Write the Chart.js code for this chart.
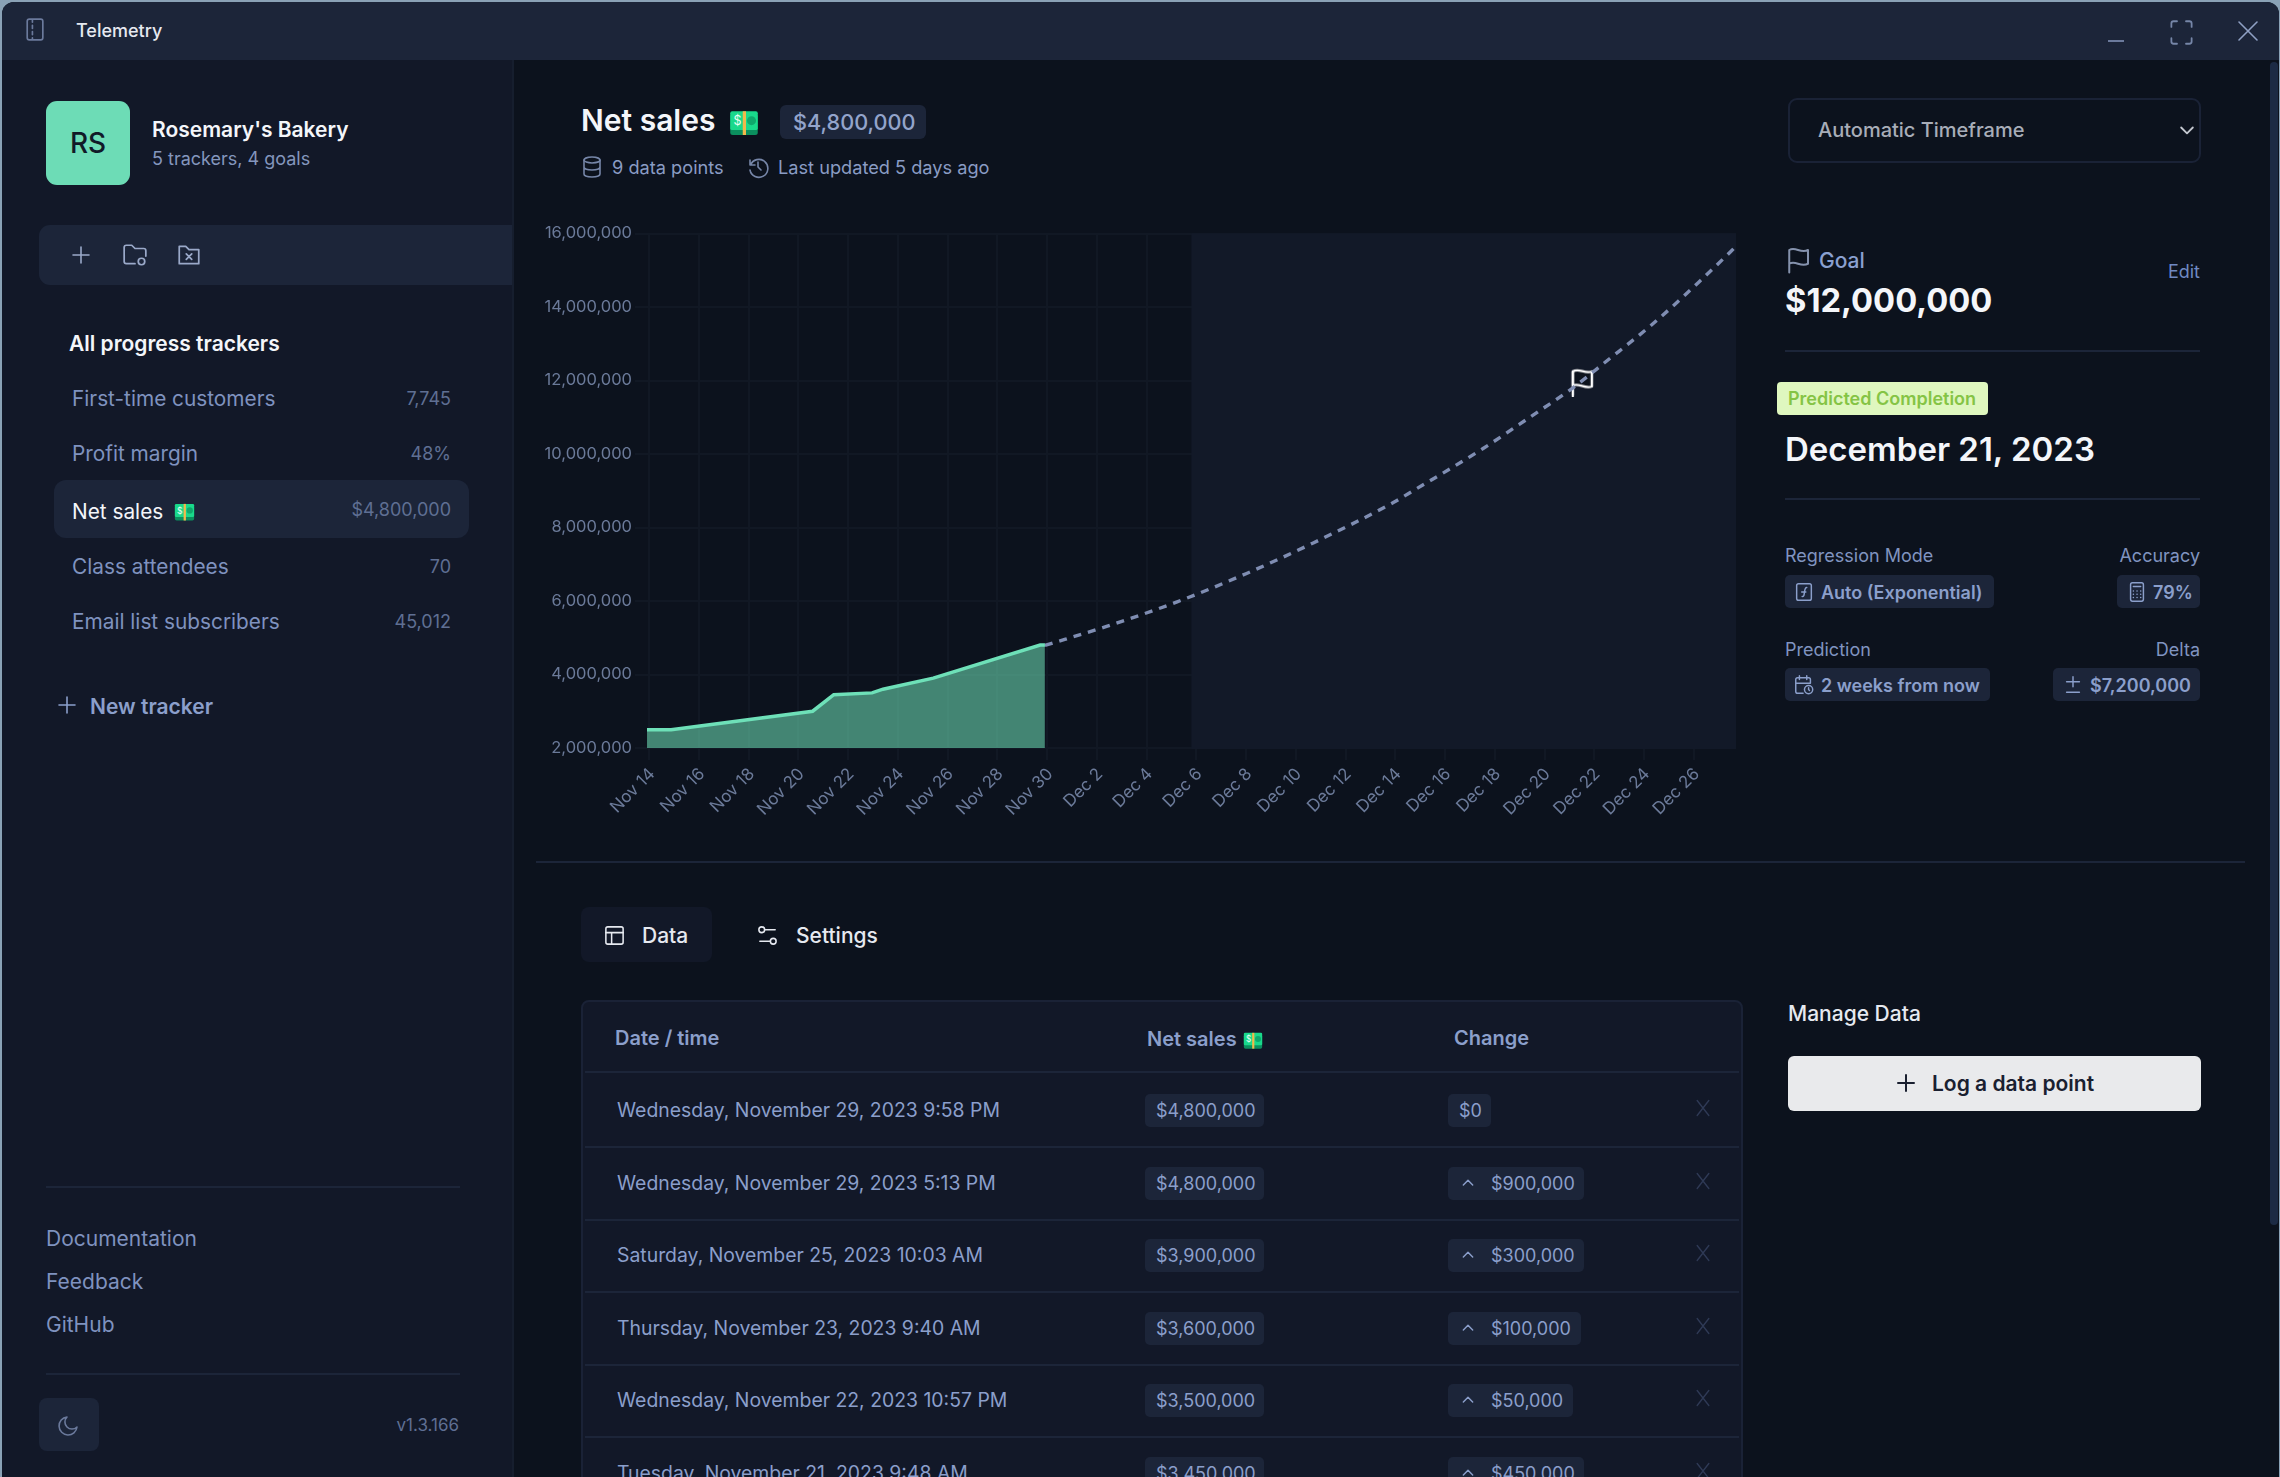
<!DOCTYPE html>
<html>
<head>
<meta charset="utf-8">
<title>Telemetry</title>
<style>
html,body{margin:0;padding:0;background:#8aa2b6;overflow:hidden}
body{width:2280px;height:1477px;position:relative;font-family:Inter,sans-serif}
#win{position:absolute;left:2px;top:2px;width:2277px;height:1475px;background:#0c121d;border-radius:12px 12px 0 0;overflow:hidden}
#ui{position:absolute;left:-2px;top:-2px;width:2280px;height:1477px}
#ui div,#ui svg{position:absolute}
.t{white-space:nowrap;line-height:1;transform:translateY(-50%)}
canvas{position:absolute;left:518px;top:198px}
</style>
</head>
<body>
<div id="win"><div id="ui"></div><canvas id="myChart" width="1216" height="640"></canvas></div>
<script src="https://cdn.jsdelivr.net/npm/chart.js@4"></script>
<script>
// chart values, x in days after Nov 14
const observedDays = [-0.09, 0.88, 6.57, 7.42, 8.96, 9.4, 11.42, 15.72, 15.91]
const observedValues = [2500000, 2500000, 3000000, 3450000, 3500000, 3600000, 3900000, 4800000, 4800000]
const forecastDays = [15.91, 18.39, 21.2, 24.02, 26.7, 29.92, 30.52, 33.53, 35.54, 37.02, 38.5, 40.37, 42.18, 43.52, 43.7]
const forecastValues = [4790000, 5310000, 5970000, 6750000, 7580000, 8680000, 8920000, 10150000, 11060000, 11740000, 12530000, 13550000, 14660000, 15530000, 15650000]
const goalDay = 37.5
const goalValue = 12000000
const forecastStart = 21.8
const tickDays = [0,2,4,6,8,10,12,14,16,18,20,22,24,26,28,30,32,34,36,38,40,42]
const tickLabels = ['Nov 14','Nov 16','Nov 18','Nov 20','Nov 22','Nov 24','Nov 26','Nov 28','Nov 30','Dec 2','Dec 4','Dec 6','Dec 8','Dec 10','Dec 12','Dec 14','Dec 16','Dec 18','Dec 20','Dec 22','Dec 24','Dec 26']

const trackers = ['First-time customers','Profit margin','Net sales','Class attendees','Email list subscribers']
const trackerValues = ['7,745','48%','$4,800,000','70','45,012']
const rowDates = ['Wednesday, November 29, 2023 9:58 PM','Wednesday, November 29, 2023 5:13 PM','Saturday, November 25, 2023 10:03 AM','Thursday, November 23, 2023 9:40 AM','Wednesday, November 22, 2023 10:57 PM','Tuesday, November 21, 2023 9:48 AM']
const rowValues = ['$4,800,000','$4,800,000','$3,900,000','$3,600,000','$3,500,000','$3,450,000']
const rowChanges = ['$0','$900,000','$300,000','$100,000','$50,000','$450,000']

const ui = document.getElementById('ui')
const BAR = '#1c2539', SIDE = '#121828', BLUE = '#8b9fcb', DIM = '#5f6f93', WHITE = '#f4f6fa'

function box(x, y, w, h, bg, r, border) {
  const d = document.createElement('div')
  d.style.cssText = `left:${x}px;top:${y}px;width:${w}px;height:${h}px;background:${bg};border-radius:${r||0};box-sizing:border-box;` + (border ? `border:${border};` : '')
  ui.appendChild(d)
  return d
}
function text(s, x, cy, size, weight, color, right) {
  const d = document.createElement('div')
  d.className = 't'
  d.textContent = s
  d.style.cssText = `${right ? 'right:' + (2280 - x) : 'left:' + x}px;top:${cy}px;font-size:${size}px;font-weight:${weight};color:${color}`
  ui.appendChild(d)
}
function icon(x, y, size, color, path, sw) {
  const s = document.createElementNS('http://www.w3.org/2000/svg', 'svg')
  s.setAttribute('viewBox', '0 0 24 24')
  s.setAttribute('width', size); s.setAttribute('height', size)
  s.style.cssText = `left:${x}px;top:${y}px;fill:none;stroke:${color};stroke-width:${sw||1.6};stroke-linecap:round;stroke-linejoin:round`
  s.innerHTML = path
  ui.appendChild(s)
}
function money(x, y, w) {
  const s = document.createElementNS('http://www.w3.org/2000/svg', 'svg')
  s.setAttribute('viewBox', '0 0 24 20')
  s.setAttribute('width', w); s.setAttribute('height', w * 20 / 24)
  s.style.cssText = `left:${x}px;top:${y}px`
  s.innerHTML = '<rect x="1" y="3" width="22" height="17" rx="2" fill="#0b8f5e"/><rect x="1" y="1" width="22" height="15" rx="1.5" fill="#19d98b"/><rect x="11" y="1" width="2.6" height="19" fill="#f2b84b"/><circle cx="18" cy="8.5" r="3.6" fill="#0fa86c"/><text x="3.5" y="12" font-size="10" fill="#eafff5" font-family="Inter">$</text>'
  ui.appendChild(s)
}
const PLUS = '<path d="M12 4v16M4 12h16"/>'
const FLAG = '<path d="M5 22V4c5-3 9 3 15 0v11c-6 3-10-3-15 0"/>'

// window chrome
box(0, 0, 2280, 60, BAR)
box(0, 60, 512, 1417, SIDE)
box(512, 60, 2, 1417, '#161e2e')
box(2270, 62, 8, 1163, '#1c2a44', '4px')
icon(22, 17, 25, '#6b7a9c', '<rect x="5" y="2" width="15" height="20" rx="2"/><path d="M10 3v2M10 8v3M10 14v3M10 20v1"/>')
text('Telemetry', 76, 31, 18, 500, '#e6e9f0')
box(2108, 40, 16, 2, '#6b7a9c')
icon(2168, 19, 27, '#7686a8', '<path d="M3 7V4a2 2 0 0 1 2-2h3M16 2h3a2 2 0 0 1 2 2v3M21 17v3a2 2 0 0 1-2 2h-3M8 22H5a2 2 0 0 1-2-2v-3"/>')
icon(2236, 19, 24, '#8fa0c4', '<path d="M3 3l18 18M21 3L3 21"/>')

// sidebar
box(46, 101, 84, 84, '#6ddcb6', '11px')
const rs = box(46, 101, 84, 84, 'transparent')
rs.style.cssText += 'color:#111a28;font-size:28px;font-weight:500;text-align:center;line-height:84px'
rs.textContent = 'RS'
text("Rosemary's Bakery", 152, 129, 21, 600, WHITE)
text('5 trackers, 4 goals', 152, 159, 18, 400, '#8496bd')
box(39, 225, 473, 60, BAR, '11px 0 0 11px')
icon(69, 243, 24, '#9aa9c9', PLUS)
icon(122, 242, 26, '#9aa9c9', '<path d="M12 20H4a2 2 0 0 1-2-2V5a2 2 0 0 1 2-2h5l3 3h8a2 2 0 0 1 2 2v5"/><circle cx="18" cy="18" r="3"/>')
icon(176, 242, 26, '#9aa9c9', '<path d="M21 20H3V4h6l3 3h9zM9.5 11l5 5M14.5 11l-5 5"/>')
text('All progress trackers', 69, 343, 21, 600, WHITE)
const trackerY = [398.5, 453.5, 511.5, 566.5, 621.5]
box(54, 480, 415, 58, BAR, '12px')
trackers.forEach((name, i) => {
  const on = i === 2
  text(name, 72, trackerY[i], 20.8, 400, on ? WHITE : '#7f92bf')
  text(trackerValues[i], 451, trackerY[i] - (on ? 2 : 0), 18, 400, DIM, true)
})
money(174, 503, 21)
icon(55, 693, 24, BLUE, PLUS)
text('New tracker', 90, 706, 21, 600, BLUE)
box(46, 1186, 414, 2, BAR)
text('Documentation', 46, 1238, 21, 400, '#7f92bf')
text('Feedback', 46, 1281, 21, 400, '#7f92bf')
text('GitHub', 46, 1324, 21, 400, '#7f92bf')
box(46, 1373, 414, 2, BAR)
box(39, 1398, 60, 53, BAR, '8px')
icon(57, 1413, 24, '#6b7a9c', '<path d="M20 14A9 9 0 1 1 10 4a7 7 0 0 0 10 10z"/>')
text('v1.3.166', 459, 1425, 17, 400, DIM, true)

// heading
text('Net sales', 581, 120, 30, 600, WHITE)
money(729, 110, 30)
box(780, 105, 146, 34, BAR, '6px')
text('$4,800,000', 793, 123, 21.7, 500, '#93a4cb')
icon(580, 155, 24, '#7686a8', '<ellipse cx="12" cy="5" rx="8" ry="3"/><path d="M4 5v14c0 1.700 3.600 3 8 3s8-1.300 8-3V5M4 12c0 1.700 3.600 3 8 3s8-1.300 8-3"/>')
text('9 data points', 612, 167, 18.2, 400, '#8a9cc4')
icon(746, 155, 24, '#7686a8', '<path d="M4 5v5h5M4.500 10a9 9 0 1 1-.5 5M12 7v5l3 3"/>')
text('Last updated 5 days ago', 778, 167, 18.2, 400, '#8a9cc4')
box(1788, 98, 413, 65, 'transparent', '9px', '2px solid #1a2236')
text('Automatic Timeframe', 1818, 130, 20, 500, '#a8adb8')
icon(2177, 120, 20, '#c4c8d0', '<path d="M5 9l7 7 7-7"/>', 2.2)

// goal panel
icon(1783, 245, 30, '#8592ad', FLAG)
text('Goal', 1819, 260, 21, 500, '#8aa0d0')
text('Edit', 2200, 272, 18, 400, '#6f89c2', true)
text('$12,000,000', 1785, 300, 32.7, 700, WHITE)
box(1785, 350, 415, 2, BAR)
box(1777, 382, 211, 33, '#dff7bf', '4px')
text('Predicted Completion', 1788, 399, 18, 600, '#85c445')
text('December 21, 2023', 1785, 449, 33, 600, WHITE)
box(1785, 498, 415, 2, BAR)
text('Regression Mode', 1785, 556, 18, 400, '#8094c0')
text('Accuracy', 2200, 556, 18, 400, '#8094c0', true)
text('Prediction', 1785, 650, 18, 400, '#8094c0')
text('Delta', 2200, 650, 18, 400, '#8094c0', true)
box(1785, 575, 209, 33, BAR, '5px')
box(2117, 575, 83, 33, BAR, '5px')
box(1785, 668, 205, 33, BAR, '5px')
box(2053, 668, 147, 33, BAR, '5px')
icon(1793, 581, 22, BLUE, '<rect x="4" y="3" width="16" height="18" rx="2"/><path d="M10 17c2 0 2-1 2.500-5s1-5 2.500-5M9.500 12H14"/>')
text('Auto (Exponential)', 1821, 592.5, 18, 600, BLUE)
icon(2126, 581, 22, BLUE, '<rect x="5" y="2" width="14" height="20" rx="2"/><path d="M8 6h8M8 11h.1M12 11h.1M16 11h.1M8 14.500h.1M12 14.500h.1M16 14.500h.1M8 18h.1M12 18h.1M16 18h.1"/>')
text('79%', 2153, 592.5, 18, 600, BLUE)
icon(1793, 674, 22, BLUE, '<path d="M11 21H5a2 2 0 0 1-2-2V6a2 2 0 0 1 2-2h12a2 2 0 0 1 2 2v4M15 2v4M7 2v4M3 10h16"/><circle cx="17" cy="17" r="4.500"/><path d="M17 15v2l1 1"/>')
text('2 weeks from now', 1821, 685.5, 18, 600, BLUE)
icon(2062, 674, 22, BLUE, '<path d="M12 3v11M5 8.500h14M5 20h14"/>')
text('$7,200,000', 2090, 685.5, 18, 600, BLUE)

// tabs and table
box(536, 861, 1709, 2, BAR)
box(581, 907, 131, 55, SIDE, '8px')
icon(603, 924, 23, '#e6e9f0', '<rect x="3" y="3" width="18" height="18" rx="2"/><path d="M3 9h18M9 21V9"/>')
text('Data', 642, 935, 21, 500, '#e6e9f0')
icon(756, 924, 23, '#e6e9f0', '<circle cx="6" cy="6" r="3"/><path d="M9 6h11M4 18h11"/><circle cx="18" cy="18" r="3"/>')
text('Settings', 796, 935, 21, 500, '#e6e9f0')
text('Manage Data', 1788, 1013, 21, 500, '#e6e9f0')
box(1788, 1056, 413, 55, '#e9eaec', '6px')
icon(1894, 1071, 24, '#1a2030', PLUS, 2)
text('Log a data point', 1932, 1083, 21, 600, '#1a2030')

box(581, 1000, 1162, 500, SIDE, '8px', '2px solid #1a2236')
text('Date / time', 615, 1038, 20, 600, BLUE)
text('Net sales', 1147, 1039, 20, 600, BLUE)
money(1243, 1032, 20)
text('Change', 1454, 1038, 20, 600, BLUE)
const lineY = [1071, 1146, 1219, 1291, 1364, 1436]
const rowY = [1110, 1183, 1255, 1328, 1400, 1473]
const changeW = [43, 136, 136, 133, 125, 136]
lineY.forEach(y => box(585, y, 1154, 2, BAR))
rowDates.forEach((d, i) => {
  const cy = rowY[i]
  text(d, 617, cy + 1, 19.4, 400, BLUE)
  box(1145, cy - 16, 119, 33, BAR, '5px')
  text(rowValues[i], 1156, cy + 1, 18, 400, BLUE)
  box(1448, cy - 16, changeW[i], 33, BAR, '5px')
  if (i === 0) {
    text(rowChanges[i], 1459, cy + 1, 18, 400, BLUE)
  } else {
    icon(1460, cy - 8, 16, BLUE, '<path d="M5 15l7-7 7 7"/>', 2.2)
    text(rowChanges[i], 1491, cy + 1, 18, 400, BLUE)
  }
  icon(1693, cy - 12, 20, '#2f3a56', '<path d="M5 3l14 18M19 3L5 21"/>')
})

// flag marker used as the goal point
const flag = document.createElement('canvas')
flag.width = 24; flag.height = 32
const fc = flag.getContext('2d')
fc.translate(0, 4)
fc.strokeStyle = '#fff'; fc.fillStyle = '#0c121d'; fc.lineWidth = 2.4; fc.lineCap = 'round'; fc.lineJoin = 'round'
fc.beginPath()
fc.moveTo(3, 3)
fc.bezierCurveTo(9, -1, 15, 6, 22, 3)
fc.lineTo(22, 18)
fc.bezierCurveTo(15, 21, 9, 14, 3, 17)
fc.closePath()
fc.fill(); fc.stroke()
fc.beginPath(); fc.moveTo(3, 3); fc.lineTo(3, 27); fc.stroke()

const shade = {
  id: 'forecastShade',
  beforeDatasetsDraw(chart) {
    const a = chart.chartArea, x = chart.scales.x.getPixelForValue(forecastStart)
    chart.ctx.fillStyle = '#121928'
    chart.ctx.fillRect(x, a.top, a.right - x, a.bottom - a.top + 1)
  }
}

new Chart(document.getElementById('myChart'), {
  type: 'line',
  data: {
    datasets: [
      {
        data: observedDays.map((d, i) => ({x: d, y: observedValues[i]})),
        borderColor: '#6ee0b8',
        borderWidth: 3.5,
        backgroundColor: 'rgba(110,224,184,0.56)',
        fill: 'start',
        pointRadius: 0,
        tension: 0
      },
      {
        data: forecastDays.map((d, i) => ({x: d, y: forecastValues[i]})),
        borderColor: '#7f8db2',
        borderWidth: 3.4,
        borderDash: [8, 7],
        pointRadius: 0,
        cubicInterpolationMode: 'monotone'
      },
      {
        data: [{x: goalDay, y: goalValue}],
        pointStyle: flag,
        pointRadius: 14,
        showLine: false
      }
    ]
  },
  plugins: [shade],
  options: {
    responsive: false,
    animation: false,
    layout: {autoPadding: false, padding: {top: 33.5, right: 0, left: 0, bottom: 0}},
    plugins: {legend: {display: false}, tooltip: {enabled: false}},
    scales: {
      x: {
        type: 'linear',
        min: -0.09,
        max: 43.7,
        afterBuildTicks(axis) { axis.ticks = tickDays.map(v => ({value: v})) },
        afterFit(axis) { axis.height = 92; axis.paddingLeft = 0; axis.paddingRight = 0 },
        grid: {color: '#111824', lineWidth: 2, tickLength: 12},
        border: {display: false},
        ticks: {
          autoSkip: false, minRotation: 45, maxRotation: 45,
          labelOffset: 3, padding: 4,
          color: '#6b7a99', font: {family: 'Inter', size: 17},
          callback: (v) => tickLabels[tickDays.indexOf(v)]
        }
      },
      y: {
        min: 2000000,
        max: 16000000,
        afterFit(axis) { axis.width = 127; axis.paddingTop = 0; axis.paddingBottom = 0 },
        grid: {color: '#111824', lineWidth: 2, tickLength: 12},
        border: {display: false},
        ticks: {
          stepSize: 2000000,
          color: '#6b7a99', font: {family: 'Inter', size: 16.5},
          callback: (v) => v.toLocaleString('en-US')
        }
      }
    }
  }
})
</script>
</body>
</html>
